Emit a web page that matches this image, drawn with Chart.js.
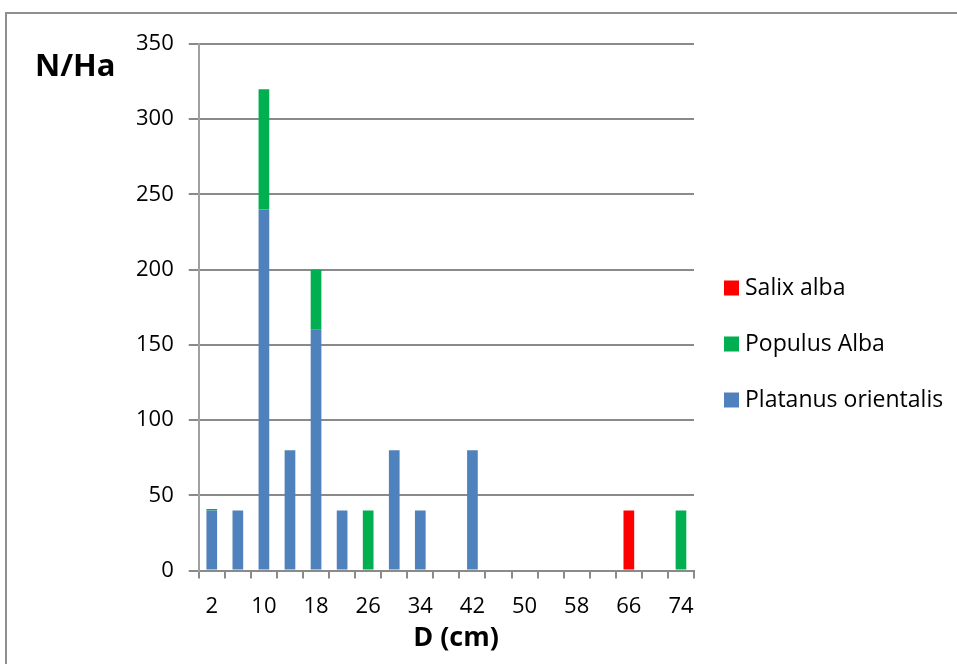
<!DOCTYPE html>
<html>
<head>
<meta charset="utf-8">
<script src="https://cdn.jsdelivr.net/npm/chart.js@4/dist/chart.umd.min.js"></script>
<style>
  html, body { margin: 0; padding: 0; background: #fff; overflow: hidden; }
  #frame { position: absolute; left: 5px; top: 12px; width: 1000px; height: 700px; border: 2px solid #8f8f8f; box-sizing: border-box; }
  #wrap { position: absolute; left: 0; top: 0; width: 957px; height: 664px; }
</style>
</head>
<body>
<div id="frame"></div>
<div id="wrap"><canvas id="c" width="957" height="664"></canvas></div>
<script>
const categories = ['2','6','10','14','18','22','26','30','34','38','42','46','50','54','58','62','66','70','74'];
const platanus = [40,40,240,80,160,40,0,80,40,0,80,0,0,0,0,0,0,0,0];
const populus  = [1,0,80,0,40,0,40,0,0,0,0,0,0,0,0,0,0,0,40];
const salix    = [0,0,0,0,0,0,0,0,0,0,0,0,0,0,0,0,40,0,0];
const yTicks = [0,50,100,150,200,250,300,350];

const FONT = '"Open Sans", sans-serif';

const extrasPlugin = {
  id: 'extras',
  afterDraw(chart) {
    const ctx = chart.ctx;
    ctx.save();
    // y axis title (horizontal, top-left)
    ctx.font = 'bold 31px ' + FONT;
    ctx.fillStyle = '#000';
    ctx.textAlign = 'left';
    ctx.textBaseline = 'alphabetic';
    ctx.fillText('N/Ha', 35, 76);
    // x axis title
    ctx.font = 'bold 27px ' + FONT;
    ctx.textAlign = 'center';
    ctx.textBaseline = 'middle';
    ctx.fillText('D (cm)', 456, 638);
    // legend (reverse order of datasets)
    const ds = chart.data.datasets.slice().reverse();
    const boxX = 724, box = 15, textX = 745, y0 = 288, step = 56;
    ctx.font = '23px ' + FONT;
    ctx.textAlign = 'left';
    ds.forEach((d, i) => {
      const cy = y0 + i * step;
      ctx.fillStyle = d.backgroundColor;
      ctx.fillRect(boxX, cy - box / 2, box, box);
      ctx.fillStyle = '#000';
      ctx.fillText(d.label, textX, cy);
    });
    ctx.restore();
  }
};

new Chart(document.getElementById('c'), {
  type: 'bar',
  data: {
    labels: categories,
    datasets: [
      { label: 'Platanus orientalis', data: platanus, backgroundColor: '#4F81BD' },
      { label: 'Populus Alba', data: populus, backgroundColor: '#00B050' },
      { label: 'Salix alba', data: salix, backgroundColor: '#FF0000' }
    ]
  },
  options: {
    responsive: false,
    animation: false,
    devicePixelRatio: 1,
    datasets: { bar: { barPercentage: 0.41, categoryPercentage: 1.0, borderWidth: 0 } },
    layout: { padding: { left: 121, top: 44, right: 263, bottom: 29 } },
    plugins: {
      tooltip: { enabled: false },
      legend: { display: false }
    },
    scales: {
      x: {
        stacked: true,
        offset: true,
        grid: { offset: true, drawOnChartArea: false, drawTicks: true, tickLength: 8, color: '#8a8a8a', lineWidth: 2 },
        border: { display: true, color: '#8a8a8a', width: 2 },
        ticks: {
          autoSkip: false,
          maxRotation: 0,
          padding: 15,
          color: '#000',
          font: { family: FONT, size: 22 },
          callback: function(v, i) { return i % 2 === 0 ? categories[i] : ''; }
        },
        title: { display: false }
      },
      y: {
        stacked: true,
        min: 0,
        max: 350,
        afterBuildTicks: function(axis) { axis.ticks = yTicks.map(v => ({ value: v })); },
        grid: { color: '#8a8a8a', lineWidth: 2, tickLength: 10 },
        border: { display: true, color: '#a0a0a0', width: 2 },
        ticks: { padding: 15, color: '#000', font: { family: FONT, size: 22 } }
      }
    }
  },
  plugins: [extrasPlugin]
});
</script>
</body>
</html>
